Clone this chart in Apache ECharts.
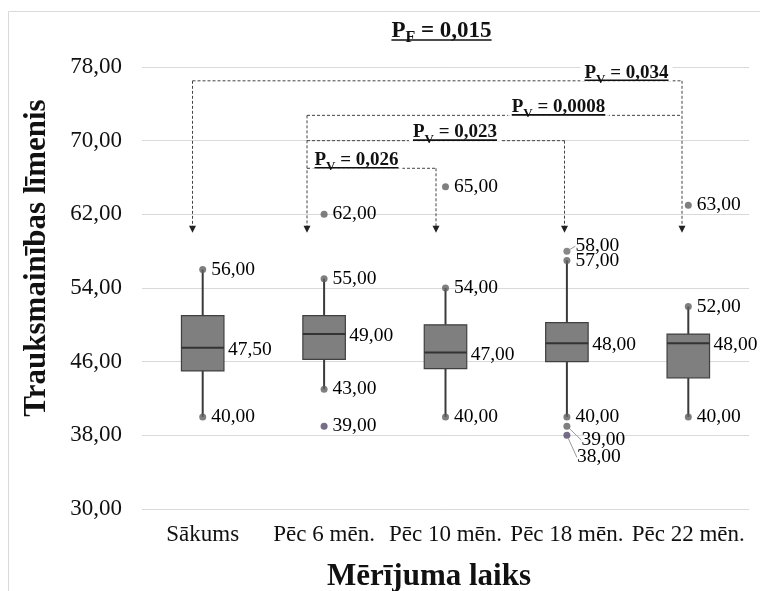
<!DOCTYPE html>
<html><head><meta charset="utf-8">
<script src="https://cdn.jsdelivr.net/npm/echarts@6/dist/echarts.min.js"></script>
<style>html,body{margin:0;padding:0;background:#fff}#c{width:760px;height:591px}</style>
</head><body><div id="c"></div>
<script>
// ---------- data ----------
const categories = ['Sākums', 'Pēc 6 mēn.', 'Pēc 10 mēn.', 'Pēc 18 mēn.', 'Pēc 22 mēn.'];
const whiskerLow  = [40, 43, 40, 40, 40];
const q1          = [45, 46.25, 45.25, 46, 44.25];
const median      = [47.5, 49, 47, 48, 48];
const q3          = [51, 51, 50, 50.25, 49];
const whiskerHigh = [56, 55, 54, 57, 52];
const outlierCat  = [1, 1, 2, 3, 3, 3, 4];
const outlierVal  = [62, 39, 65, 58, 39, 38, 63];
const yTicks      = [30, 38, 46, 54, 62, 70, 78];
const bracketFrom  = [0, 1, 1, 1];
const bracketTo    = [4, 4, 3, 2];
const bracketLevel = [76.5, 72.75, 70, 67];
const bracketP     = ['0,034', '0,0008', '0,023', '0,026'];
const arrowEnd = 60;
const pF = '0,015';
const xName = 'Mērījuma laiks';
const yName = 'Trauksmainības līmenis';

// ---------- styling (positions / nudges) ----------
const FONT = '"Liberation Serif", "Times New Roman", serif';
const arrowDx = [-10.2, -17.1, -9.5, -2.4, -6.3];
const labelFrac = [0.8866, 0.6707, 0.5748, 0.3837];
const outlierNudge = [null, null, null, [0, -5], [6, 14], [1.5, 22], null];
const outlierColor = ['#5f5f5f', '#54496b', '#5f5f5f', '#6a6a6a', '#5f5f5f', '#54496b', '#5f5f5f'];

const fmt = v => Number(v).toFixed(2).replace('.', ',');

const chart = echarts.init(document.getElementById('c'), null, {renderer: 'canvas'});

const boxData = categories.map((c, i) => [i, whiskerLow[i], q1[i], median[i], q3[i], whiskerHigh[i]]);
const endData = [];
categories.forEach((c, i) => { endData.push([i, whiskerHigh[i]]); endData.push([i, whiskerLow[i]]); });
const outData = outlierCat.map((c, k) => {
  const item = {value: [c, outlierVal[k]], itemStyle: {color: outlierColor[k]}};
  if (outlierNudge[k]) item.labelLine = {show: true};
  return item;
});

function dataLabel() {
  return {
    show: true, position: 'right', distance: 5,
    formatter: p => fmt(p.value[1]),
    fontFamily: FONT, fontSize: 19.5, color: '#000', opacity: 1, textBorderWidth: 0
  };
}

const option = {
  animation: false,
  backgroundColor: '#fff',
  grid: {left: 142, right: 11, top: 67, bottom: 82},
  xAxis: {
    type: 'category', data: categories,
    axisLine: {show: false}, axisTick: {show: false},
    axisLabel: {interval: 0, margin: 14, fontFamily: FONT, fontSize: 23, color: '#111'},
    splitLine: {show: false}
  },
  yAxis: {
    type: 'value', min: yTicks[0], max: yTicks[yTicks.length - 1], interval: yTicks[1] - yTicks[0],
    axisLine: {show: false}, axisTick: {show: false},
    axisLabel: {margin: 20, fontFamily: FONT, fontSize: 23, color: '#111', formatter: v => fmt(v)},
    splitLine: {show: true, lineStyle: {color: '#d9d9d9', width: 1}}
  },
  series: [
    {
      type: 'custom', data: boxData, encode: {x: 0, y: [1, 2, 3, 4, 5]}, z: 2,
      renderItem: function (params, api) {
        const i = api.value(0);
        const lo = api.coord([i, api.value(1)]);
        const a = api.coord([i, api.value(2)]);
        const m = api.coord([i, api.value(3)]);
        const b = api.coord([i, api.value(4)]);
        const hi = api.coord([i, api.value(5)]);
        const w = api.size([1, 0])[0] * 0.35;
        const x = m[0];
        return {type: 'group', children: [
          {type: 'line', shape: {x1: x, y1: hi[1], x2: x, y2: b[1]}, style: {stroke: '#3a3a3a', lineWidth: 2}},
          {type: 'line', shape: {x1: x, y1: a[1], x2: x, y2: lo[1]}, style: {stroke: '#3a3a3a', lineWidth: 2}},
          {type: 'rect', shape: {x: x - w / 2, y: b[1], width: w, height: a[1] - b[1]}, style: {fill: '#7f7f7f', stroke: '#404040', lineWidth: 1.2}},
          {type: 'line', shape: {x1: x - w / 2, y1: m[1], x2: x + w / 2, y2: m[1]}, style: {stroke: '#333', lineWidth: 2}},
          {type: 'text', x: x + w / 2 + 4, y: m[1] + 2, style: {text: fmt(api.value(3)), font: '19.5px ' + FONT, fill: '#000', textAlign: 'left', align: 'left', textVerticalAlign: 'middle', verticalAlign: 'middle'}}
        ]};
      }
    },
    {
      type: 'scatter', data: endData, symbol: 'circle', symbolSize: 7, z: 3,
      itemStyle: {color: '#5f5f5f'}, label: dataLabel()
    },
    {
      type: 'scatter', data: outData, symbol: 'circle', symbolSize: 7, z: 3,
      label: dataLabel(),
      labelLine: {show: false, lineStyle: {color: '#9a9a9a', width: 1}},
      labelLayout: function (p) {
        const n = outlierNudge[p.dataIndex];
        return n ? {dx: n[0], dy: n[1]} : {};
      }
    }
  ]
};
chart.setOption(option);

// ---------- annotations ----------
const px = (c, v) => chart.convertToPixel({gridIndex: 0}, [c, v]);
const cv = document.createElement('canvas').getContext('2d');
function tw(txt, font) { cv.font = font; return cv.measureText(txt).width; }

function pLabel(sub, val, cx, yLine, size) {
  const fMain = 'bold ' + size + 'px ' + FONT;
  const subSize = Math.round(size * 0.68);
  const fSub = 'bold ' + subSize + 'px ' + FONT;
  const wP = tw('P', fMain), wS = tw(sub, fSub), wR = tw(' = ' + val, fMain);
  const total = wP + wS + wR;
  const x0 = cx - total / 2;
  const midMain = yLine - 2 - size * 0.3;
  const midSub = yLine + 3 - subSize * 0.3;
  const txt = (t, x, y, f) => ({type: 'text', z: 20, x: x, y: y, style: {text: t, font: f, fill: '#111', textAlign: 'left', align: 'left', textVerticalAlign: 'middle', verticalAlign: 'middle'}});
  return [
    {type: 'rect', z: 19, shape: {x: x0 - 4, y: yLine - size * 1.05, width: total + 8, height: size * 1.05 + 1}, style: {fill: '#fff'}},
    txt('P', x0, midMain, fMain),
    txt(sub, x0 + wP, midSub, fSub),
    txt(' = ' + val, x0 + wP + wS, midMain, fMain),
    {type: 'line', z: 20, shape: {x1: x0, y1: yLine, x2: x0 + total, y2: yLine}, style: {stroke: '#111', lineWidth: 1.6}}
  ];
}

const g = [];
// outer frame
g.push({type: 'rect', z: 0, shape: {x: 8.5, y: 11.5, width: 800, height: 700}, style: {fill: 'none', stroke: '#d9d9d9', lineWidth: 1}});

const dashStyle = {stroke: '#444', lineWidth: 1, lineDash: [3, 2]};
const arrowX = i => px(i, arrowEnd)[0] + arrowDx[i];
const yEnd = px(0, arrowEnd)[1];

// horizontal bracket lines
bracketFrom.forEach((f, k) => {
  const y = px(0, bracketLevel[k])[1];
  g.push({type: 'line', z: 10, shape: {x1: arrowX(f), y1: y, x2: arrowX(bracketTo[k]), y2: y}, style: dashStyle});
});
// verticals with arrows
categories.forEach((c, i) => {
  let top = null;
  bracketFrom.forEach((f, k) => {
    if (f === i || bracketTo[k] === i) top = top === null ? bracketLevel[k] : Math.max(top, bracketLevel[k]);
  });
  if (top === null) return;
  const x = arrowX(i), y1 = px(0, top)[1];
  g.push({type: 'line', z: 10, shape: {x1: x, y1: y1, x2: x, y2: yEnd - 6}, style: dashStyle});
  g.push({type: 'polygon', z: 10, shape: {points: [[x - 3.5, yEnd - 7], [x + 3.5, yEnd - 7], [x, yEnd]]}, style: {fill: '#222'}});
});
// P_V labels
bracketFrom.forEach((f, k) => {
  const xa = arrowX(f), xb = arrowX(bracketTo[k]);
  const cx = xa + labelFrac[k] * (xb - xa);
  const y = px(0, bracketLevel[k])[1];
  pLabel('V', bracketP[k], cx, y - 0.5, 19).forEach(e => g.push(e));
});
// P_F title
pLabel('F', pF, 441.5, 40, 23).forEach(e => g.push(e));

// axis names
g.push({type: 'text', z: 20, x: 37, y: 258, rotation: Math.PI / 2,
  style: {text: yName, font: 'bold 31px ' + FONT, fill: '#111', textAlign: 'center', align: 'center', textVerticalAlign: 'middle', verticalAlign: 'middle'}});
g.push({type: 'text', z: 20, x: 429, y: 577,
  style: {text: xName, font: 'bold 31px ' + FONT, fill: '#111', textAlign: 'center', align: 'center', textVerticalAlign: 'middle', verticalAlign: 'middle'}});

chart.setOption({graphic: {elements: g}});
</script>
</body></html>
